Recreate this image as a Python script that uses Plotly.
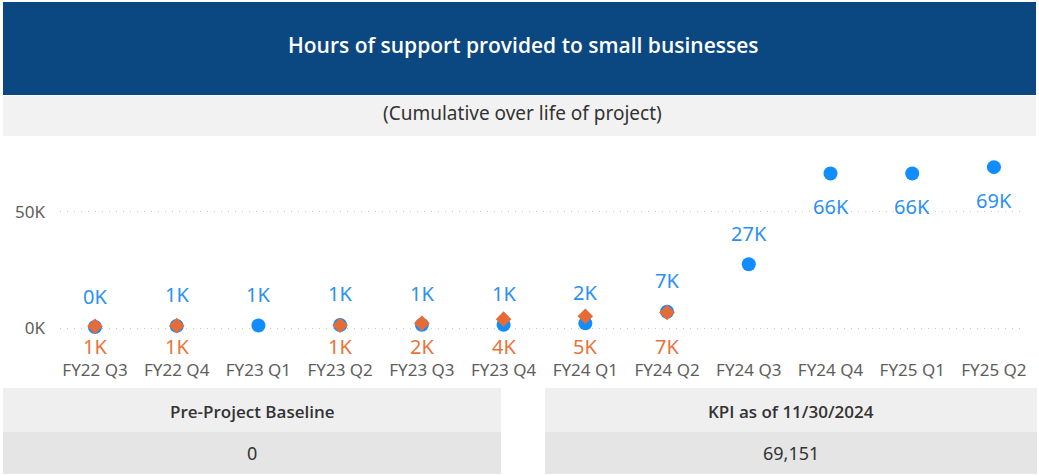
import plotly.graph_objects as go

quarters = ["FY22 Q3", "FY22 Q4", "FY23 Q1", "FY23 Q2", "FY23 Q3", "FY23 Q4",
            "FY24 Q1", "FY24 Q2", "FY24 Q3", "FY24 Q4", "FY25 Q1", "FY25 Q2"]
actual = [400, 900, 1100, 1300, 1400, 1400, 2000, 7000, 27400, 66400, 66400, 69151]
target = [700, 1000, None, 1200, 2000, 3800, 5000, 6700, None, None, None, None]
y_tickvals = [0, 50000]
y_ticktext = ["0K", "50K"]

title_text = "Hours of support provided to small businesses"
subtitle_text = "(Cumulative over life of project)"
card_titles = ["Pre-Project Baseline", "KPI as of 11/30/2024"]
card_values = [0, 69151]

FONT = "Noto Sans, Open Sans, sans-serif"
SEMI = "Open Sans, Noto Sans, sans-serif"
BLUE = "#118DFF"
ORANGE = "#E66C37"
W, H = 1039, 476
ML, MR, MT, MB = 60, W - 1025, 140, H - 350
PW, PH = W - ML - MR, H - MT - MB


def fmt_k(v):
    return f"{round(v / 1000):.0f}K"


def px(x):
    return (x - ML) / PW


def py(y):
    return 1 - (y - MT) / PH


fig = go.Figure()
fig.add_trace(go.Scatter(x=quarters, y=actual, mode="markers",
                         marker=dict(color=BLUE, size=14, symbol="circle"),
                         name="Actual", hoverinfo="x+y"))
fig.add_trace(go.Scatter(x=quarters, y=target, mode="markers",
                         marker=dict(color=ORANGE, size=12, symbol="diamond"),
                         name="Target", hoverinfo="x+y"))

annotations = []
for q, v in zip(quarters, actual):
    below = v > 50000
    annotations.append(dict(x=q, y=v, xref="x", yref="y", text=fmt_k(v),
                            showarrow=False, yshift=-33 if below else 31,
                            xanchor="center", yanchor="middle",
                            font=dict(family=FONT, size=20, color="#2A91F2")))
for q, v in zip(quarters, target):
    if v is None:
        continue
    annotations.append(dict(x=q, y=0, xref="x", yref="y", text=fmt_k(v),
                            showarrow=False, yshift=-18,
                            xanchor="center", yanchor="middle",
                            font=dict(family=FONT, size=20, color="#E8743B")))


def ptext(x, y, text, size, color, family=FONT, weight="normal"):
    return dict(x=px(x), y=py(y), xref="paper", yref="paper", text=text,
                showarrow=False, xanchor="center", yanchor="middle",
                font=dict(family=family, size=size, color=color, weight=weight))


annotations.append(ptext(523, 45, title_text, 21, "white", SEMI, 600))
annotations.append(ptext(522, 113, subtitle_text, 19, "#333333"))
card_x = [(3, 501), (545, 1037)]
for (x0, x1), t, v in zip(card_x, card_titles, card_values):
    cx = (x0 + x1) / 2
    annotations.append(ptext(cx, 411, t, 17, "#333333", SEMI, 600))
    annotations.append(ptext(cx, 453, f"{v:,}", 18, "#333333"))

shapes = [
    dict(type="rect", xref="paper", yref="paper", x0=px(3), x1=px(1036), y0=py(95), y1=py(2),
         fillcolor="#0B4780", line=dict(width=0), layer="below"),
    dict(type="rect", xref="paper", yref="paper", x0=px(3), x1=px(1036), y0=py(136), y1=py(96),
         fillcolor="#F2F2F2", line=dict(width=0), layer="below"),
]
for x0, x1 in card_x:
    shapes.append(dict(type="rect", xref="paper", yref="paper", x0=px(x0), x1=px(x1), y0=py(432), y1=py(388),
                       fillcolor="#EFEFEF", line=dict(width=0), layer="below"))
    shapes.append(dict(type="rect", xref="paper", yref="paper", x0=px(x0), x1=px(x1), y0=py(474), y1=py(432),
                       fillcolor="#E5E5E5", line=dict(width=0), layer="below"))

fig.update_layout(
    width=W, height=H,
    margin=dict(l=ML, r=MR, t=MT, b=MB),
    paper_bgcolor="white", plot_bgcolor="white",
    showlegend=False,
    annotations=annotations,
    shapes=shapes,
    font=dict(family=FONT),
)
fig.update_xaxes(type="category", range=[-0.428, 11.38], showgrid=False, zeroline=False,
                 showline=False, ticklabelstandoff=8,
                 tickfont=dict(family=FONT, size=17, color="#605E5C"),
                 automargin=False, fixedrange=True)
fig.update_yaxes(range=[-9460, 80830], tickvals=y_tickvals, ticktext=y_ticktext,
                 showgrid=True, gridcolor="#C8C8C8", griddash="1px,6px", gridwidth=1,
                 zeroline=False, showline=False, ticklabelstandoff=14,
                 tickfont=dict(family=FONT, size=17, color="#605E5C"),
                 automargin=False, fixedrange=True)

fig.write_html("out.html", config={"displayModeBar": False},
               post_script="document.body.style.margin='0';")
